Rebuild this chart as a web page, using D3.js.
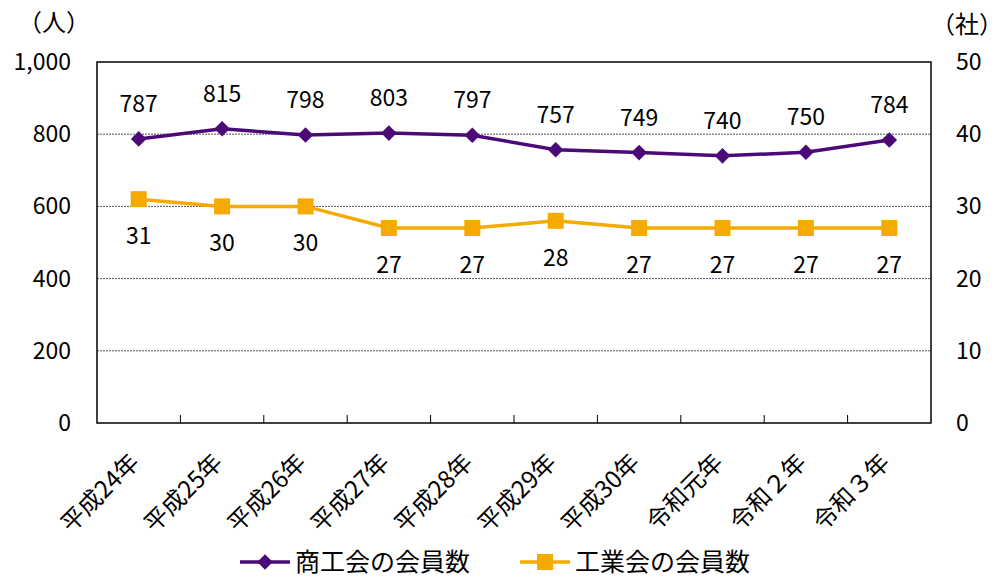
<!DOCTYPE html>
<html>
<head>
<meta charset="utf-8">
<script src="https://cdn.jsdelivr.net/npm/d3@7"></script>
<style>
  body { margin: 0; background: #fff; }
  text { font-family: "Noto Sans CJK JP", "Noto Sans", sans-serif; fill: #000; }
</style>
</head>
<body>
<svg id="chart" width="1004" height="579"></svg>
<script>
const years = ["平成24年", "平成25年", "平成26年", "平成27年", "平成28年", "平成29年", "平成30年", "令和元年", "令和２年", "令和３年"];
const shokokai = [787, 815, 798, 803, 797, 757, 749, 740, 750, 784];
const kogyokai = [31, 30, 30, 27, 27, 28, 27, 27, 27, 27];
const leftTicks = [0, 200, 400, 600, 800, 1000];
const rightTicks = [0, 10, 20, 30, 40, 50];

const purple = "#4B0A78";
const orange = "#F5AA00";

const svg = d3.select("#chart");
const m = { left: 97, right: 931, top: 62, bottom: 423 };

const x = d3.scaleBand().domain(years).range([m.left, m.right]);
const yL = d3.scaleLinear().domain([0, 1000]).range([m.bottom, m.top]);
const yR = d3.scaleLinear().domain([0, 50]).range([m.bottom, m.top]);

// grid
svg.append("g")
  .selectAll("line")
  .data(leftTicks.filter(d => d > 0 && d < 1000))
  .join("line")
  .attr("x1", m.left).attr("x2", m.right)
  .attr("y1", d => yL(d)).attr("y2", d => yL(d))
  .attr("stroke", "#555").attr("stroke-width", 1)
  .attr("stroke-dasharray", "2,1");

// frame
svg.append("rect")
  .attr("x", m.left).attr("y", m.top)
  .attr("width", m.right - m.left).attr("height", m.bottom - m.top)
  .attr("fill", "none").attr("stroke", "#000").attr("stroke-width", 1.5);

// category ticks (inside, at boundaries)
svg.append("g")
  .selectAll("line")
  .data(years.slice(1))
  .join("line")
  .attr("x1", d => x(d)).attr("x2", d => x(d))
  .attr("y1", m.bottom).attr("y2", m.bottom - 8)
  .attr("stroke", "#000").attr("stroke-width", 1);

// left axis labels
svg.append("g")
  .selectAll("text")
  .data(leftTicks)
  .join("text")
  .attr("x", 71).attr("y", d => yL(d))
  .attr("dy", "0.35em")
  .attr("text-anchor", "end")
  .attr("font-size", 23)
  .text(d => d3.format(",")(d));

// right axis labels
svg.append("g")
  .selectAll("text")
  .data(rightTicks)
  .join("text")
  .attr("x", 956).attr("y", d => yR(d))
  .attr("dy", "0.35em")
  .attr("font-size", 23)
  .text(d => d);

svg.append("text").attr("x", 18).attr("y", 31).attr("font-size", 24).text("（人）");
svg.append("text").attr("x", 931).attr("y", 33).attr("font-size", 24).text("（社）");

// x labels
svg.append("g")
  .selectAll("text")
  .data(years)
  .join("text")
  .attr("transform", d => `translate(${x(d) + x.bandwidth() / 2 - 4},${m.bottom + 35}) rotate(-45)`)
  .attr("text-anchor", "end")
  .attr("font-size", 24)
  .attr("dy", "0.35em")
  .text(d => d);

const cx = d => x(d) + x.bandwidth() / 2;

// 商工会 line
svg.append("path")
  .datum(shokokai)
  .attr("fill", "none").attr("stroke", purple).attr("stroke-width", 3.5)
  .attr("d", d3.line().x((d, i) => cx(years[i])).y(d => yL(d)));

svg.append("g")
  .selectAll("path")
  .data(shokokai)
  .join("path")
  .attr("transform", (d, i) => `translate(${cx(years[i])},${yL(d)}) rotate(45)`)
  .attr("d", "M-5.5,-5.5H5.5V5.5H-5.5Z")
  .attr("fill", purple);

svg.append("g")
  .selectAll("text")
  .data(shokokai)
  .join("text")
  .attr("x", (d, i) => cx(years[i]))
  .attr("y", d => yL(d) - 35)
  .attr("dy", "0.35em")
  .attr("text-anchor", "middle")
  .attr("font-size", 23)
  .text(d => d);

// 工業会 line
svg.append("path")
  .datum(kogyokai)
  .attr("fill", "none").attr("stroke", orange).attr("stroke-width", 3.5)
  .attr("d", d3.line().x((d, i) => cx(years[i])).y(d => yR(d)));

svg.append("g")
  .selectAll("rect")
  .data(kogyokai)
  .join("rect")
  .attr("x", (d, i) => cx(years[i]) - 8)
  .attr("y", d => yR(d) - 8)
  .attr("width", 16).attr("height", 16)
  .attr("fill", orange);

svg.append("g")
  .selectAll("text")
  .data(kogyokai)
  .join("text")
  .attr("x", (d, i) => cx(years[i]))
  .attr("y", d => yR(d) + 37)
  .attr("dy", "0.35em")
  .attr("text-anchor", "middle")
  .attr("font-size", 23)
  .text(d => d);

// legend
const legend = [
  { name: "商工会の会員数", color: purple, shape: "diamond", x: 240 },
  { name: "工業会の会員数", color: orange, shape: "square", x: 520 }
];
const lg = svg.append("g")
  .selectAll("g")
  .data(legend)
  .join("g")
  .attr("transform", d => `translate(${d.x},562)`);
lg.append("line").attr("x1", 0).attr("x2", 50)
  .attr("stroke", d => d.color).attr("stroke-width", 3.5);
lg.append("path")
  .attr("transform", d => d.shape === "diamond" ? "translate(25,0) rotate(45)" : "translate(25,0)")
  .attr("d", d => d.shape === "diamond" ? "M-5.5,-5.5H5.5V5.5H-5.5Z" : "M-8,-8H8V8H-8Z")
  .attr("fill", d => d.color);
lg.append("text").attr("x", 55).attr("dy", "0.35em")
  .attr("font-size", 25).attr("fill", "#404040")
  .text(d => d.name);
</script>
</body>
</html>
